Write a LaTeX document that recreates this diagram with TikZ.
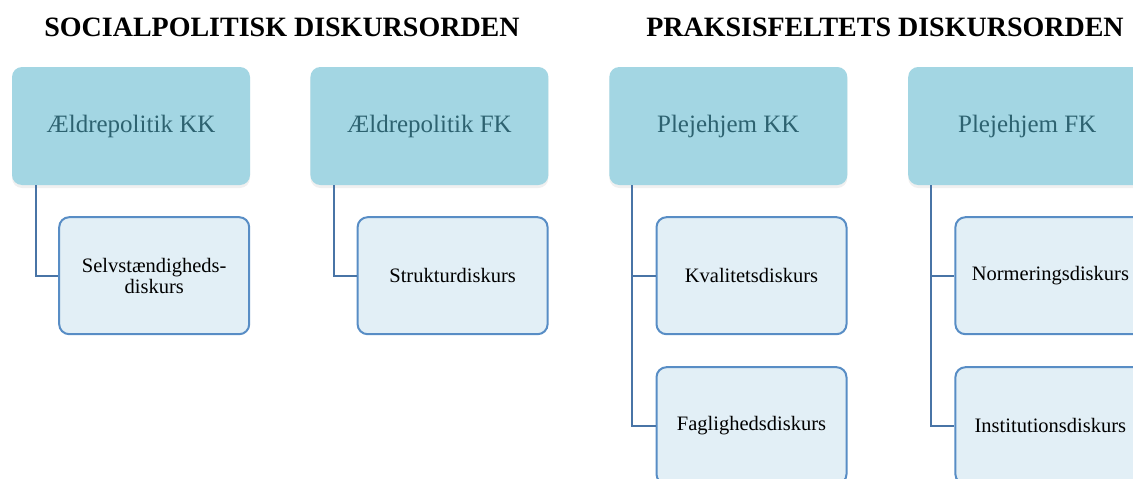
\documentclass[tikz,border=0pt]{standalone}
\usepackage{fontspec}
\setmainfont{Liberation Serif}
\definecolor{parentfill}{RGB}{163, 214, 227}
\definecolor{parenttext}{RGB}{45, 98, 112}
\definecolor{childfill}{RGB}{226, 239, 246}
\definecolor{childline}{RGB}{88, 141, 197}
\definecolor{connline}{RGB}{72, 116, 166}
\usetikzlibrary{positioning,shadows}

\tikzset{
    parent/.style={rectangle, rounded corners=10pt, fill=parentfill, text=parenttext,
        minimum width=238pt, minimum height=118pt, inner sep=0pt,
        font=\fontsize{25}{28}\selectfont,
        drop shadow={opacity=0.12, shadow xshift=0pt, shadow yshift=-3pt}},
    child/.style={rectangle, rounded corners=10pt, draw=childline, line width=2pt, fill=childfill,
        minimum width=190pt, minimum height=117pt, inner sep=0pt, align=center,
        font=\fontsize{20.5}{21}\selectfont},
    conn/.style={draw=connline, line width=2pt},
    heading/.style={font=\bfseries\fontsize{28}{32}\selectfont}
}

\begin{document}
\begin{tikzpicture}[x=1pt, y=-1pt, node distance=60.5pt]
    \useasboundingbox (0,0) rectangle (1133,479);

    \node[heading] (titleA) at (282,27) {SOCIALPOLITISK DISKURSORDEN};
    \node[heading] (titleB) at (885,27) {PRAKSISFELTETS DISKURSORDEN};

    \node[parent] (aeldreKK) at (131,126) {Ældrepolitik KK};
    \node[parent, right=60pt of aeldreKK] (aeldreFK) {Ældrepolitik FK};
    \node[parent, right=of aeldreFK] (plejeKK) {Plejehjem KK};
    \node[parent, right=of plejeKK] (plejeFK) {Plejehjem FK};

    \node[child, below=31pt of aeldreKK.south east, anchor=north east] (selv) {Selvstændigheds-\\diskurs};
    \node[child, below=31pt of aeldreFK.south east, anchor=north east] (struktur) {Strukturdiskurs};
    \node[child, below=31pt of plejeKK.south east, anchor=north east] (kvalitet) {Kvalitetsdiskurs};
    \node[child, below=31pt of kvalitet] (faglig) {Faglighedsdiskurs};
    \node[child, below=31pt of plejeFK.south east, anchor=north east] (normering) {Normeringsdiskurs};
    \node[child, below=31pt of normering] (institution) {Institutionsdiskurs};

    \draw[conn] ([xshift=24pt]aeldreKK.south west) |- (selv.west);
    \draw[conn] ([xshift=24pt]aeldreFK.south west) |- (struktur.west);
    \draw[conn] ([xshift=23pt]plejeKK.south west) |- (kvalitet.west);
    \draw[conn] ([xshift=23pt]plejeKK.south west) |- (faglig.west);
    \draw[conn] ([xshift=23pt]plejeFK.south west) |- (normering.west);
    \draw[conn] ([xshift=23pt]plejeFK.south west) |- (institution.west);
\end{tikzpicture}
\end{document}
